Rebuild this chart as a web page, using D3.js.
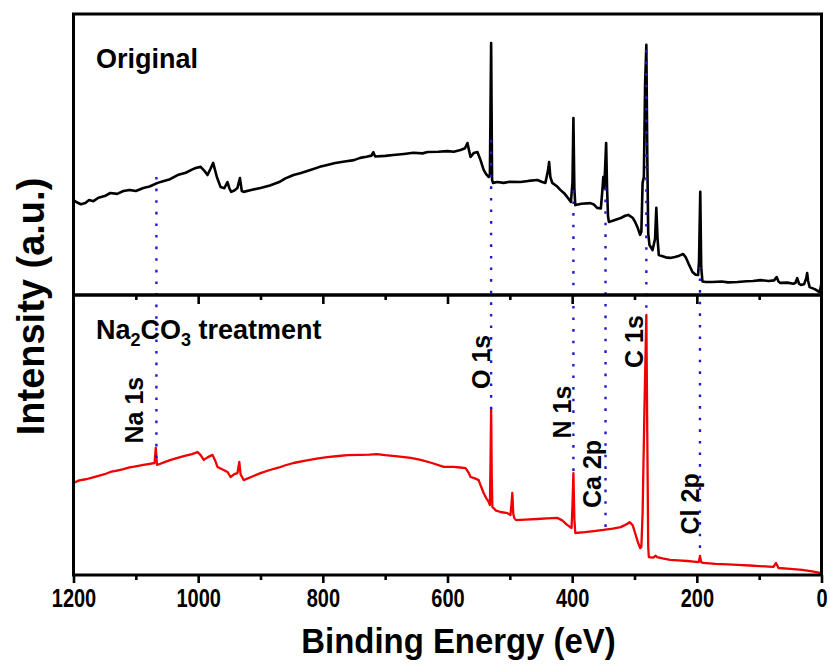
<!DOCTYPE html>
<html>
<head>
<meta charset="utf-8">
<script src="https://cdn.jsdelivr.net/npm/d3@7"></script>
<style>
  html, body { margin: 0; padding: 0; background: #fff; }
  svg text { font-family: "Liberation Sans", Arial, sans-serif; font-weight: bold; fill: #000; }
</style>
</head>
<body>
<svg id="chart" width="830" height="668"></svg>
<script>
// ---------------- DATA ----------------
// X axis (binding energy, eV)
const xDomain = [1200, 0];
const majorTicks = [1200, 1000, 800, 600, 400, 200, 0];
const minorTicks = [1100, 900, 700, 500, 300, 100];

// Panel labels
const panelLabels = ["Original", "Na2CO3 treatment"];

// Original spectrum [binding energy, intensity a.u.]
const originalSpectrum = [
  [1200,33.8],[1195,33.0],[1188,32.3],[1181,32.7],[1175,33.8],[1168,33.4],[1160,34.6],[1150,35.2],[1141,36.3],[1130,36.0],
  [1120,37.0],[1110,37.4],[1100,37.0],[1088,38.1],[1078,38.6],[1065,39.9],[1055,40.6],[1045,41.2],[1033,42.7],[1020,43.5],
  [1010,44.6],[1004,45.2],[996,45.6],[990,44.2],[985,42.7],[980,45.0],[976,47.0],[970,42.0],[964,38.4],[958,38.0],
  [953,40.2],[950,38.0],[947,36.7],[942,37.2],[937,38.1],[933,41.6],[930,37.0],[927,36.7],[915,37.4],[900,38.1],
  [885,39.0],[870,40.2],[860,41.5],[847,42.7],[835,43.4],[820,44.5],[805,45.6],[793,46.3],[780,47.0],[765,47.5],
  [750,48.0],[740,48.8],[730,49.2],[722,49.6],[719,50.8],[716,49.3],[700,49.5],[687,49.8],[670,50.2],[655,50.6],
  [640,50.4],[632,50.9],[615,51.0],[600,51.2],[590,51.0],[579,51.6],[572,52.2],[568,54.1],[565,51.0],[563,49.1],
  [558,50.5],[552,50.9],[547,48.0],[542,44.5],[538,43.0],[534,42.0],[532,42.5],[530,89.7],[528.5,41.0],[527,39.9],
  [520,40.2],[510,39.9],[500,40.3],[483,40.2],[470,40.6],[456,40.9],[448,40.2],[443,39.9],[439,44.0],[437,47.3],
  [435,42.0],[432,39.9],[425,38.8],[419,37.4],[412,36.0],[408,34.9],[402,33.1],[399.5,40.0],[398,63.0],[396.5,38.0],
  [395,32.0],[385,32.5],[371,32.7],[365,32.2],[360,31.0],[354,30.8],[352,36.0],[350,42.0],[348.5,38.0],[345.5,54.1],
  [344,38.0],[342.5,28.0],[341,26.0],[335,26.4],[322,27.4],[315,28.2],[310,28.5],[303,27.5],[299,26.0],[295,24.0],
  [291,21.4],[289,22.5],[287,39.9],[285,42.0],[283,75.0],[281,89.0],[279.5,50.0],[278,22.0],[276,17.8],[271,16.0],
  [267,20.0],[265,31.0],[263,20.0],[261,14.2],[255,13.8],[250,13.4],[243,13.2],[235,13.5],[228,14.0],[222,14.6],
  [218,13.5],[213,11.0],[207,8.2],[202,7.2],[198,7.1],[196.5,12.0],[194.5,36.7],[193,10.0],[191,4.8],[185,4.6],
  [175,4.6],[160,4.8],[150,4.5],[135,4.6],[120,4.9],[110,5.0],[98,5.3],[85,5.0],[76,5.2],[72,6.4],
  [69,4.8],[66,4.3],[55,4.4],[45,4.0],[42,4.3],[39,6.0],[36,4.0],[33,3.6],[28,3.8],[24.5,6.0],
  [23,7.8],[21.5,5.0],[19,2.8],[10,2.0],[4,1.1],[2,2.0],[0,4.3]
];

// Na2CO3-treated spectrum [binding energy, intensity a.u.]
const treatedSpectrum = [
  [1200,32.9],[1194,33.5],[1189,33.9],[1180,34.2],[1170,34.8],[1160,35.4],[1150,36.0],[1141,36.8],[1130,37.3],[1120,37.8],
  [1110,38.4],[1100,38.8],[1088,39.3],[1080,39.6],[1070,40.0],[1068,45.4],[1066,39.3],[1055,40.2],[1045,41.0],[1033,41.8],
  [1020,42.6],[1010,43.2],[1001,43.9],[996,42.8],[991,41.1],[985,42.0],[977,42.9],[973,41.0],[969,38.6],[960,37.6],
  [953,36.8],[948,35.0],[942,36.0],[937,36.4],[935,39.0],[934,40.4],[932,36.0],[927,33.9],[915,35.0],[900,36.4],
  [885,37.5],[870,38.4],[860,39.2],[847,40.0],[830,40.8],[810,41.6],[793,42.1],[775,42.5],[760,42.8],[740,42.9],
  [725,43.0],[713,43.2],[700,42.8],[680,42.4],[659,41.8],[643,41.1],[625,40.0],[606,38.6],[590,38.6],[580,38.4],
  [571,38.2],[566,36.5],[563,35.0],[556,34.5],[550,33.9],[546,31.5],[542,29.3],[538,27.5],[534,26.1],[532,25.0],
  [531,40.0],[530,59.6],[529,35.0],[528,24.3],[522,23.0],[515,22.5],[504,22.1],[499,21.4],[497.5,25.0],[496,29.3],
  [494.5,22.0],[493,20.4],[490,19.6],[475,19.8],[456,20.0],[440,20.2],[424,20.4],[416,19.5],[408,17.9],[401,16.8],
  [399.5,25.0],[398,36.4],[396.5,20.0],[395,15.0],[380,15.3],[365,15.7],[350,16.1],[335,16.6],[322,17.1],[312,18.2],
  [308,18.9],[303,17.8],[299,15.0],[295,12.0],[291,9.6],[289,10.0],[287,22.1],[284,60.0],[281,92.9],[279.5,50.0],
  [278,10.0],[277,6.4],[270,6.2],[266,6.9],[264,6.4],[255,5.9],[243,5.4],[230,5.2],[215,5.0],[205,4.8],
  [197,4.6],[195,6.8],[193,4.6],[190,4.3],[170,4.0],[150,3.8],[135,3.6],[115,3.4],[100,3.2],[85,3.0],
  [77,2.9],[73,4.3],[69,2.5],[50,2.2],[31,1.8],[15,1.3],[0,0.7]
];

// Peak reference lines
const peakNames      = ["Na 1s", "O 1s", "N 1s", "Ca 2p", "C 1s", "Cl 2p"];
const peakEnergies   = [1067, 530, 398, 346.5, 281, 195];
const peakTopLevel   = [42.0, 55.2, 37.4, 38.1, 87.2, 10.0];   // intensity in Original panel where line starts
const peakBottomLevel= [40.0, 58.9, 35.0, 15.0, 92.1, 6.4];    // intensity in treated panel where line ends
const labelEnergies  = [1088, 532.6, 402.6, 354.5, 287.1, 197.3];
const labelLevels    = [58.9, 76.1, 58.2, 36.1, 83.4, 25.4];

// ---------------- LAYOUT ----------------
const X0 = 73.5, X1 = 821.5, YT = 14, YM = 295, YB = 575;
const svg = d3.select("#chart");

const x = d3.scaleLinear().domain(xDomain).range([X0, X1]);
const yTop = d3.scaleLinear().domain([0, 100]).range([YM, YT]);
const yBot = d3.scaleLinear().domain([0, 100]).range([YB, YM]);

// spectra
svg.append("path")
  .datum(originalSpectrum)
  .attr("fill", "none").attr("stroke", "#000").attr("stroke-width", 2.6)
  .attr("stroke-linejoin", "round")
  .attr("d", d3.line().x(d => x(d[0])).y(d => yTop(d[1])));

svg.append("path")
  .datum(treatedSpectrum)
  .attr("fill", "none").attr("stroke", "#f00000").attr("stroke-width", 2.3)
  .attr("stroke-linejoin", "round")
  .attr("d", d3.line().x(d => x(d[0])).y(d => yBot(d[1])));

// dotted reference lines
svg.append("g").selectAll("line")
  .data(peakEnergies)
  .join("line")
  .attr("x1", d => x(d)).attr("x2", d => x(d))
  .attr("y1", (d, i) => yTop(peakTopLevel[i]))
  .attr("y2", (d, i) => yBot(peakBottomLevel[i]))
  .attr("stroke", "#1c1ccc").attr("stroke-width", 2.4)
  .attr("stroke-dasharray", "2.6 9");

// peak labels
svg.append("g").selectAll("text")
  .data(peakNames)
  .join("text")
  .attr("transform", (d, i) => `translate(${x(labelEnergies[i])},${yBot(labelLevels[i])}) rotate(-90)`)
  .attr("text-anchor", "middle")
  .style("font-size", "25px")
  .text(d => d);

// frames
svg.append("rect").attr("x", X0).attr("y", YT).attr("width", X1 - X0).attr("height", YM - YT)
  .attr("fill", "none").attr("stroke", "#000").attr("stroke-width", 3);
svg.append("rect").attr("x", X0).attr("y", YM).attr("width", X1 - X0).attr("height", YB - YM)
  .attr("fill", "none").attr("stroke", "#000").attr("stroke-width", 3);

// bottom axis
const axB = svg.append("g").attr("transform", `translate(0,${YB})`)
  .call(d3.axisBottom(x).tickValues(majorTicks).tickSize(8).tickPadding(6).tickFormat(d3.format("d")));
axB.select(".domain").remove();
axB.selectAll("line").attr("stroke-width", 2.6);
axB.selectAll("text")
  .style("font-size", "25px").style("font-weight", "bold")
  .attr("transform", "scale(0.8,1)");
const axBm = svg.append("g").attr("transform", `translate(0,${YB})`)
  .call(d3.axisBottom(x).tickValues(minorTicks).tickSize(5).tickFormat(""));
axBm.select(".domain").remove();
axBm.selectAll("line").attr("stroke-width", 2.6);

// divider ticks (pointing into lower panel)
const axM = svg.append("g").attr("transform", `translate(0,${YM})`)
  .call(d3.axisBottom(x).tickValues(majorTicks.slice(1, -1)).tickSize(9).tickFormat(""));
axM.select(".domain").remove();
axM.selectAll("line").attr("stroke-width", 2.6);
const axMm = svg.append("g").attr("transform", `translate(0,${YM})`)
  .call(d3.axisBottom(x).tickValues(minorTicks).tickSize(5).tickFormat(""));
axMm.select(".domain").remove();
axMm.selectAll("line").attr("stroke-width", 2.6);

// axis titles
svg.append("text").attr("transform", `translate(${(X0 + X1) / 2 + 11},653) scale(0.94,1)`)
  .attr("text-anchor", "middle").style("font-size", "35px")
  .text("Binding Energy (eV)");
svg.append("text").attr("transform", `translate(44,${(YT + YB) / 2 + 12}) rotate(-90)`)
  .attr("text-anchor", "middle").style("font-size", "38px")
  .text("Intensity (a.u.)");

// panel labels
svg.append("text").attr("x", 96).attr("y", yTop(80.8)).style("font-size", "27px").text(panelLabels[0]);
const t2 = svg.append("text").attr("x", 96).attr("y", yBot(84.3)).style("font-size", "27px");
t2.append("tspan").text("Na");
t2.append("tspan").attr("dy", 7).style("font-size", "18px").text("2");
t2.append("tspan").attr("dy", -7).text("CO");
t2.append("tspan").attr("dy", 7).style("font-size", "18px").text("3");
t2.append("tspan").attr("dy", -7).text(" treatment");
</script>
</body>
</html>
